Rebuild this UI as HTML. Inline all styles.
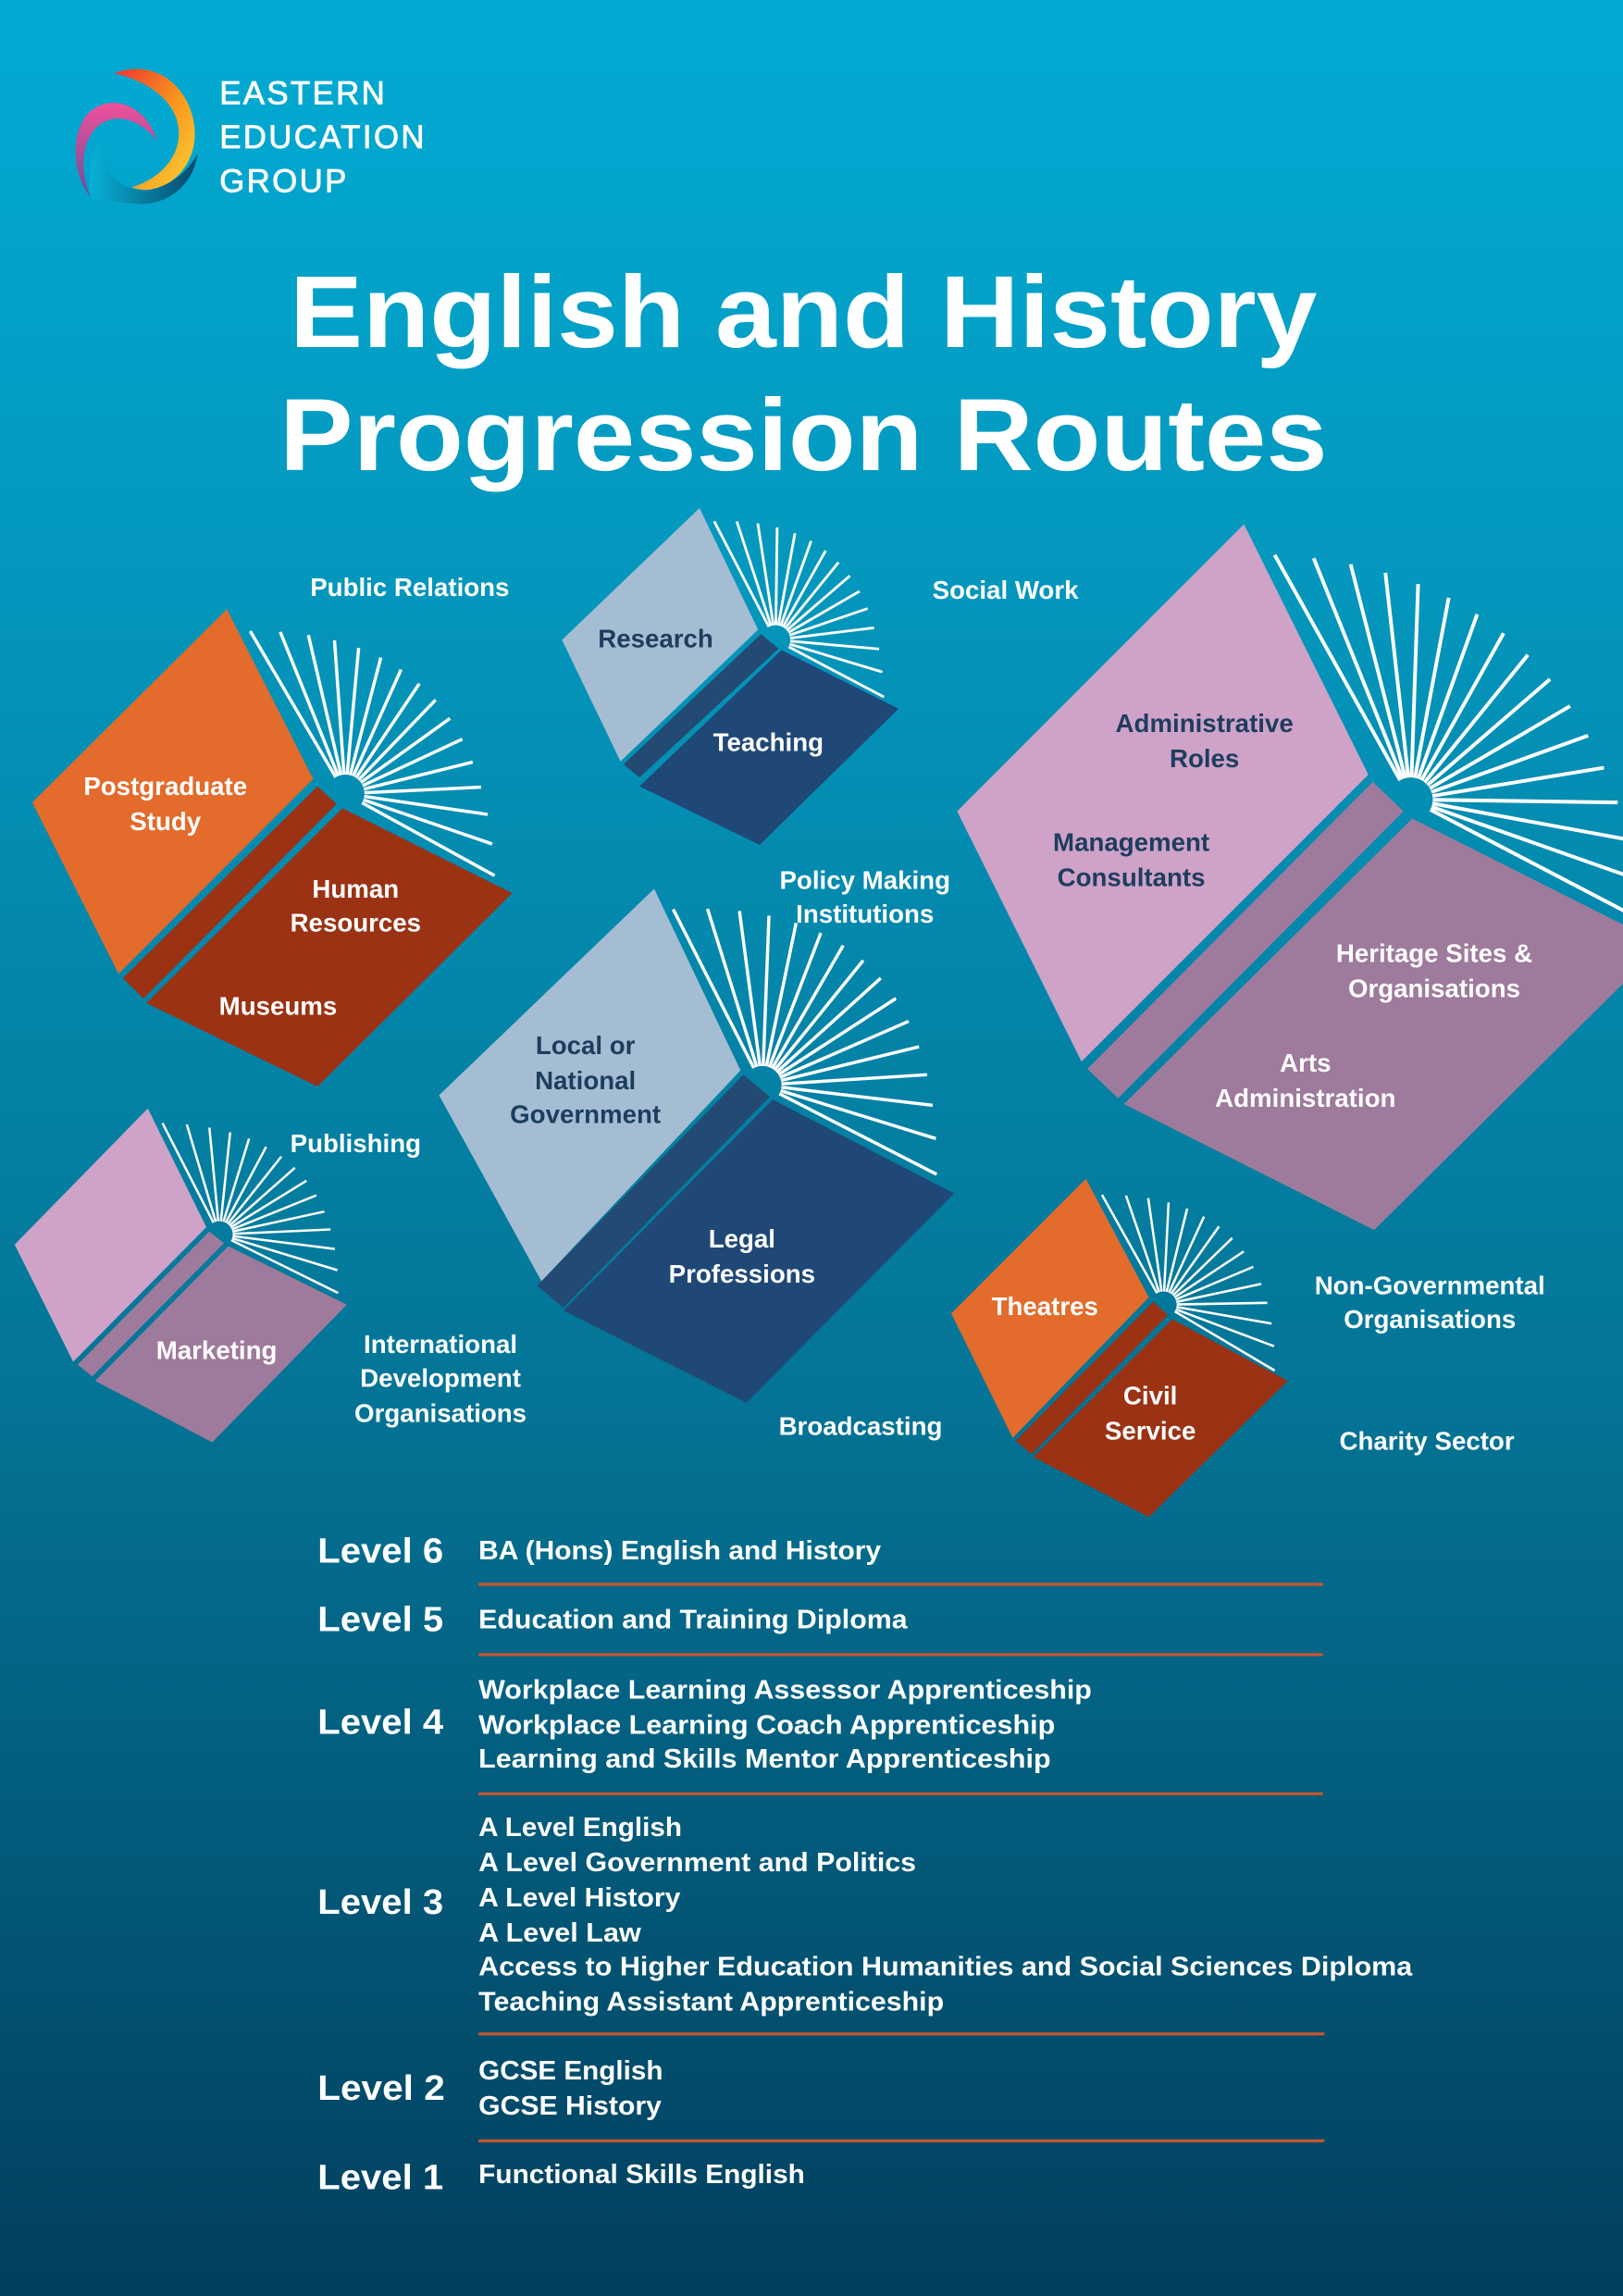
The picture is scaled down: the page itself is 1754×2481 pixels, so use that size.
<!DOCTYPE html>
<html><head><meta charset="utf-8"><style>
html,body{margin:0;padding:0;width:1754px;height:2481px;overflow:hidden}
svg{display:block}
text{font-family:"Liberation Sans",Arial,sans-serif;font-weight:bold}
</style></head><body>
<svg id="s" width="1754" height="2481" viewBox="0 0 1109 1568" preserveAspectRatio="none" xmlns="http://www.w3.org/2000/svg">
<defs>
<linearGradient id="bg" x1="0" y1="0" x2="0" y2="1">
<stop offset="0" stop-color="#02abd4"/><stop offset="0.25" stop-color="#0497bd"/><stop offset="0.6" stop-color="#047597"/><stop offset="1" stop-color="#023f5d"/>
</linearGradient>
<linearGradient id="lg1" x1="0" y1="0" x2="1" y2="1"><stop offset="0" stop-color="#e33"/><stop offset="0.5" stop-color="#f7941d"/><stop offset="1" stop-color="#fcd336"/></linearGradient>
<linearGradient id="lg2" x1="0" y1="0" x2="0" y2="1"><stop offset="0" stop-color="#f0509b"/><stop offset="1" stop-color="#6a4e9c"/></linearGradient>
<linearGradient id="lg3" x1="0" y1="0" x2="1" y2="0"><stop offset="0" stop-color="#07b1d6"/><stop offset="1" stop-color="#08486b"/></linearGradient>
</defs>
<rect width="1109" height="1568" fill="url(#bg)"/>
<!-- logo -->
<path d="M78,50 C110,38 135,65 133,95 C131,118 110,135 90,128 C110,122 124,106 122,88 C120,68 100,55 78,50Z" fill="url(#lg1)"/>
<path d="M107,96 C100,70 72,62 58,80 C48,95 50,120 62,135 C55,118 55,100 65,88 C76,76 95,80 107,96Z" fill="url(#lg2)"/>
<path d="M62,135 C60,118 62,103 70,95 C68,115 80,130 100,130 C115,128 128,118 135,105 C132,128 112,142 90,139 C78,138 68,136 62,135Z" fill="url(#lg3)"/>
<g fill="#fff" stroke="#fff" stroke-width="0.5" font-size="22" style="font-weight:normal" letter-spacing="1.5">
<text x="150" y="71" style="font-weight:normal">EASTERN</text>
<text x="150" y="101" style="font-weight:normal">EDUCATION</text>
<text x="150" y="131" style="font-weight:normal">GROUP</text>
</g>
<!-- title -->
<text x="549" y="237" fill="#fff" font-size="70" text-anchor="middle" textLength="702" lengthAdjust="spacingAndGlyphs">English and History</text>
<text x="549" y="321" fill="#fff" font-size="70" text-anchor="middle" textLength="716" lengthAdjust="spacingAndGlyphs">Progression Routes</text>
<g id="books"></g>
<g font-size="17.5" fill="#fff" text-anchor="middle">
<text x="280" y="407">Public Relations</text>
<text x="687" y="409">Social Work</text>
<text x="448" y="442" fill="#1d3d5e">Research</text>
<text x="525" y="513">Teaching</text>
<text x="113" y="543">Postgraduate</text><text x="113" y="567">Study</text>
<text x="243" y="613">Human</text><text x="243" y="636">Resources</text>
<text x="190" y="693">Museums</text>
<text x="823" y="500" fill="#1d3d5e">Administrative</text><text x="823" y="524" fill="#1d3d5e">Roles</text>
<text x="773" y="581" fill="#1d3d5e">Management</text><text x="773" y="605" fill="#1d3d5e">Consultants</text>
<text x="591" y="607">Policy Making</text><text x="591" y="630">Institutions</text>
<text x="980" y="657">Heritage Sites &amp;</text><text x="980" y="681">Organisations</text>
<text x="892" y="732">Arts</text><text x="892" y="756">Administration</text>
<text x="400" y="720" fill="#1d3d5e">Local or</text><text x="400" y="744" fill="#1d3d5e">National</text><text x="400" y="767" fill="#1d3d5e">Government</text>
<text x="243" y="787">Publishing</text>
<text x="507" y="852">Legal</text><text x="507" y="876">Professions</text>
<text x="148" y="928">Marketing</text>
<text x="301" y="924">International</text><text x="301" y="947">Development</text><text x="301" y="971">Organisations</text>
<text x="588" y="980">Broadcasting</text>
<text x="714" y="898">Theatres</text>
<text x="786" y="959">Civil</text><text x="786" y="983">Service</text>
<text x="977" y="884">Non-Governmental</text><text x="977" y="907">Organisations</text>
<text x="975" y="990">Charity Sector</text>
</g>
<!-- levels -->
<g fill="#fff">
<g font-size="24">
<text x="217" y="1067" textLength="86" lengthAdjust="spacingAndGlyphs">Level 6</text>
<text x="217" y="1114" textLength="86" lengthAdjust="spacingAndGlyphs">Level 5</text>
<text x="217" y="1184" textLength="86" lengthAdjust="spacingAndGlyphs">Level 4</text>
<text x="217" y="1307" textLength="86" lengthAdjust="spacingAndGlyphs">Level 3</text>
<text x="217" y="1434" textLength="87" lengthAdjust="spacingAndGlyphs">Level 2</text>
<text x="217" y="1495" textLength="86" lengthAdjust="spacingAndGlyphs">Level 1</text>
</g>
<g font-size="18">
<text x="327" y="1065" textLength="275" lengthAdjust="spacingAndGlyphs">BA (Hons) English and History</text>
<text x="327" y="1112" textLength="293" lengthAdjust="spacingAndGlyphs">Education and Training Diploma</text>
<text x="327" y="1160" textLength="419" lengthAdjust="spacingAndGlyphs">Workplace Learning Assessor Apprenticeship</text>
<text x="327" y="1184" textLength="394" lengthAdjust="spacingAndGlyphs">Workplace Learning Coach Apprenticeship</text>
<text x="327" y="1207" textLength="391" lengthAdjust="spacingAndGlyphs">Learning and Skills Mentor Apprenticeship</text>
<text x="327" y="1254" textLength="139" lengthAdjust="spacingAndGlyphs">A Level English</text>
<text x="327" y="1278" textLength="299" lengthAdjust="spacingAndGlyphs">A Level Government and Politics</text>
<text x="327" y="1302" textLength="138" lengthAdjust="spacingAndGlyphs">A Level History</text>
<text x="327" y="1326" textLength="111" lengthAdjust="spacingAndGlyphs">A Level Law</text>
<text x="327" y="1349" textLength="638" lengthAdjust="spacingAndGlyphs">Access to Higher Education Humanities and Social Sciences Diploma</text>
<text x="327" y="1373" textLength="318" lengthAdjust="spacingAndGlyphs">Teaching Assistant Apprenticeship</text>
<text x="327" y="1420" textLength="126" lengthAdjust="spacingAndGlyphs">GCSE English</text>
<text x="327" y="1444" textLength="125" lengthAdjust="spacingAndGlyphs">GCSE History</text>
<text x="327" y="1491" textLength="223" lengthAdjust="spacingAndGlyphs">Functional Skills English</text>
</g>
</g>
<g stroke="#c9562e" stroke-width="2">
<line x1="327" y1="1082" x2="904" y2="1082"/>
<line x1="327" y1="1130" x2="904" y2="1130"/>
<line x1="327" y1="1225" x2="904" y2="1225"/>
<line x1="327" y1="1389" x2="905" y2="1389"/>
<line x1="327" y1="1462" x2="905" y2="1462"/>
</g>
</svg>
<script>
var B=[
 {L:[[155,416],[214,532],[81,665],[22,548]],S:[[217,537],[230,549],[98,682],[84,668]],R:[[234,552],[350,610],[217,742],[100,685]],c1:"#e36b2c",c2:"#9b3213",c3:"#9b3213",C:[236,542],P0:[171,431],Q:[330,430],P2:[338,598],n:16,w:2.2,r:13},
 {L:[[478,347],[518,430],[424,520],[384,437]],S:[[520,433],[532,443],[437,531],[426,522]],R:[[534,444],[614,484],[519,577],[437,537]],c1:"#a5bdd3",c2:"#234a72",c3:"#1f4877",C:[530,437],P0:[488,356],Q:[600,352],P2:[604,476],n:15,w:1.8,r:10},
 {L:[[850,358],[935,529],[739,725],[654,554]],S:[[938,534],[959,554],[764,750],[743,730]],R:[[965,559],[1136,645],[939,840],[768,754]],c1:"#cfa2c8",c2:"#9e7a9c",c3:"#9e7a9c",C:[964,546],P0:[871,379],Q:[1090,390],P2:[1125,630],n:17,w:2.5,r:15},
 {L:[[447,607],[506,731],[370,875],[300,748]],S:[[508,734],[526,749],[385,893],[367,878]],R:[[528,751],[652,815],[510,958],[385,895]],c1:"#a5bdd3",c2:"#234a72",c3:"#1f4877",C:[521,741],P0:[460,621],Q:[642,612],P2:[640,802],n:16,w:2.2,r:13},
 {L:[[101,757],[141,838],[50,930],[10,850]],S:[[143,841],[153,849],[63,940],[53,932]],R:[[156,851],[237,891],[145,985],[65,943]],c1:"#cfa2c8",c2:"#9e7a9c",c3:"#9e7a9c",C:[150,843],P0:[111,767],Q:[232,770],P2:[231,883],n:15,w:1.6,r:9},
 {L:[[742,805],[785,886],[692,982],[650,897]],S:[[788,889],[798,898],[705,993],[694,984]],R:[[801,901],[880,943],[785,1036],[706,995]],c1:"#e36b2c",c2:"#9b3213",c3:"#9b3213",C:[795,891],P0:[753,816],Q:[872,815],P2:[871,936],n:15,w:1.6,r:9}
];
var g=document.getElementById("books"),h="";
function pts(a){return a.map(function(p){return p.join(",")}).join(" ")}
B.forEach(function(b){
 h+='<polygon points="'+pts(b.L)+'" fill="'+b.c1+'"/>';
 h+='<polygon points="'+pts(b.S)+'" fill="'+b.c2+'"/>';
 h+='<polygon points="'+pts(b.R)+'" fill="'+b.c3+'"/>';
 for(var i=0;i<b.n;i++){var t=i/(b.n-1),u=1-t;
  var ex=u*u*b.P0[0]+2*u*t*b.Q[0]+t*t*b.P2[0],ey=u*u*b.P0[1]+2*u*t*b.Q[1]+t*t*b.P2[1];
  var dx=ex-b.C[0],dy=ey-b.C[1],d=Math.sqrt(dx*dx+dy*dy),r=b.r;
  h+='<line x1="'+(b.C[0]+dx/d*r)+'" y1="'+(b.C[1]+dy/d*r)+'" x2="'+ex+'" y2="'+ey+'" stroke="#fff" stroke-width="'+b.w+'" stroke-linecap="butt"/>';
 }
});
g.innerHTML=h;
</script>
</body></html>
